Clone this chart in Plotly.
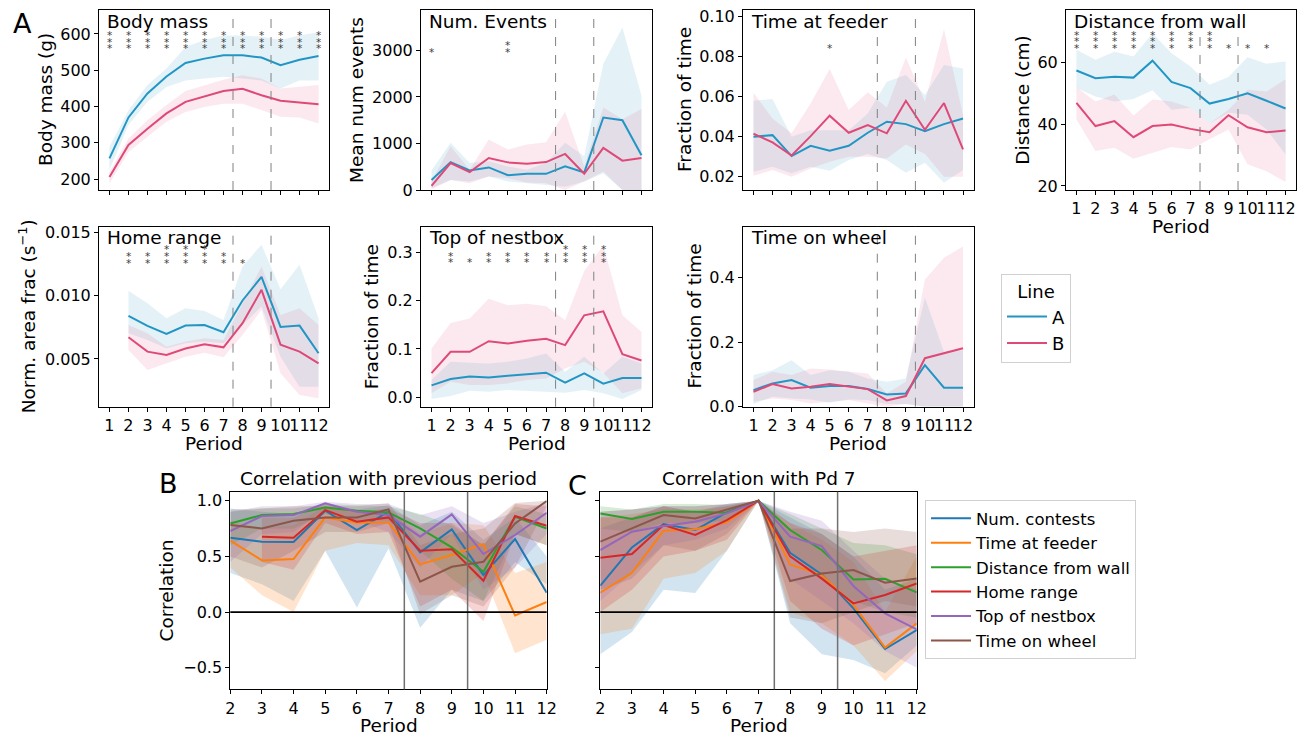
import plotly.graph_objects as go

# ---------------- DATA ----------------
PERIODS = list(range(1, 13))
PERIODS_HR = list(range(2, 13))
PERIODS_CORR = list(range(2, 13))
PERIODS_CORR_HR = list(range(3, 13))
PHASE_LINES = [7.5, 9.5]
LINES = ["A", "B"]

# Body mass (g)
body_a = [257, 370, 436, 483, 520, 532, 541, 541, 535, 514, 529, 539]
body_a_lo = [225, 349, 413, 454, 472, 477, 482, 477, 472, 450, 472, 472]
body_a_hi = [289, 390, 459, 505, 564, 583, 596, 596, 592, 583, 596, 605]
body_b = [206, 294, 339, 381, 413, 428, 443, 449, 431, 416, 410, 406]
body_b_lo = [188, 275, 317, 358, 385, 399, 408, 408, 390, 372, 370, 353]
body_b_hi = [220, 312, 362, 404, 443, 459, 474, 486, 477, 450, 454, 459]
body_sig = [3, 3, 3, 3, 3, 3, 3, 3, 3, 3, 3, 3]

# Num. events
ev_a = [217, 600, 420, 485, 319, 348, 348, 507, 377, 1558, 1500, 746]
ev_a_lo = [36, 217, 181, 290, 181, 145, 109, 72, 181, 362, 0, 0]
ev_a_hi = [420, 1014, 580, 616, 507, 435, 580, 1014, 725, 2717, 3493, 2029]
ev_b = [87, 580, 384, 688, 594, 565, 601, 775, 348, 906, 630, 688]
ev_b_lo = [14, 217, 145, 290, 254, 159, 145, 0, 181, 399, 0, 0]
ev_b_hi = [181, 942, 435, 1087, 870, 978, 1029, 1681, 507, 1775, 1522, 1739]
ev_sig = [1, 0, 0, 0, 2, 0, 0, 0, 0, 0, 0, 0]

# Time at feeder
fd_a = [0.0399, 0.0407, 0.0303, 0.0354, 0.0329, 0.0354, 0.0419, 0.0474, 0.0462, 0.0427, 0.0462, 0.0490]
fd_a_lo = [0.0225, 0.0250, 0.0217, 0.0250, 0.0230, 0.0283, 0.0313, 0.0283, 0.0220, 0.0270, 0.0170, 0.0233]
fd_a_hi = [0.0578, 0.0587, 0.0399, 0.0432, 0.0432, 0.0432, 0.0515, 0.0673, 0.0706, 0.0607, 0.0756, 0.0739]
fd_b = [0.0414, 0.0371, 0.0306, 0.0402, 0.0504, 0.0419, 0.0457, 0.0416, 0.0578, 0.0434, 0.0567, 0.0336]
fd_b_lo = [0.0205, 0.0233, 0.0200, 0.0241, 0.0275, 0.0300, 0.0300, 0.0291, 0.0361, 0.0313, 0.0200, 0.0200]
fd_b_hi = [0.0618, 0.0490, 0.0416, 0.0565, 0.0736, 0.0532, 0.0620, 0.0545, 0.0794, 0.0573, 0.0934, 0.0507]
fd_sig = [0, 0, 0, 0, 1, 0, 0, 0, 0, 0, 0, 0]

# Distance from wall (cm)
ds_a = [57.4, 54.9, 55.4, 55.1, 60.6, 53.7, 51.7, 46.7, 48.2, 50.0, 47.6, 45.1]
ds_a_lo = [51.7, 49.0, 47.4, 48.2, 51.0, 44.7, 45.3, 40.2, 43.7, 43.1, 38.3, 30.2]
ds_a_hi = [64.1, 60.9, 63.5, 61.9, 69.5, 63.0, 58.7, 52.8, 55.3, 61.7, 59.6, 60.3]
ds_b = [46.9, 39.4, 41.0, 35.8, 39.4, 39.9, 38.5, 37.4, 42.9, 39.0, 37.4, 38.0]
ds_b_lo = [41.5, 31.3, 32.4, 28.8, 30.8, 32.6, 31.8, 35.1, 38.3, 27.0, 24.8, 21.3]
ds_b_hi = [52.0, 47.4, 49.6, 42.8, 48.0, 47.4, 45.3, 40.2, 44.7, 51.2, 50.6, 54.6]
ds_sig = [3, 3, 3, 3, 3, 3, 3, 3, 1, 1, 1, 0]

# Home range (periods 2..12)
hr_a = [0.00839, 0.00761, 0.00697, 0.00763, 0.00768, 0.00711, 0.00961, 0.01147, 0.00753, 0.00763, 0.00545]
hr_a_lo = [0.00703, 0.00650, 0.00584, 0.00624, 0.00637, 0.00624, 0.00768, 0.00913, 0.00518, 0.00282, 0.00282]
hr_a_hi = [0.01037, 0.00939, 0.00821, 0.00900, 0.00879, 0.00808, 0.01229, 0.01400, 0.01050, 0.01242, 0.00821]
hr_b = [0.00671, 0.00558, 0.00532, 0.00582, 0.00616, 0.00592, 0.00782, 0.01045, 0.00613, 0.00558, 0.00466]
hr_b_lo = [0.00571, 0.00413, 0.00466, 0.00518, 0.00550, 0.00513, 0.00689, 0.00887, 0.00387, 0.00216, 0.00190]
hr_b_hi = [0.00768, 0.00703, 0.00597, 0.00637, 0.00663, 0.00650, 0.00939, 0.01229, 0.00847, 0.00900, 0.00768]
hr_sig = [0, 2, 2, 3, 3, 3, 2, 1, 0, 0, 0, 0]

# Top of nestbox
nb_a = [0.0247, 0.0377, 0.0432, 0.0412, 0.0446, 0.0474, 0.0508, 0.0302, 0.0494, 0.0281, 0.0398, 0.0398]
nb_a_lo = [-0.0034, 0.0027, 0.0137, 0.0117, 0.0151, 0.0137, 0.0117, 0.0096, 0.0151, 0.0082, -0.0034, 0.0151]
nb_a_hi = [0.0357, 0.0734, 0.0714, 0.0700, 0.0734, 0.0803, 0.0906, 0.0528, 0.0837, 0.0494, 0.0837, 0.0700]
nb_b = [0.0501, 0.0940, 0.0940, 0.1160, 0.1110, 0.1167, 0.1208, 0.1078, 0.1695, 0.1778, 0.0892, 0.0762]
nb_b_lo = [0.0082, 0.0323, 0.0254, 0.0254, 0.0288, 0.0357, 0.0391, 0.0597, 0.0734, 0.0508, 0.0082, 0.0185]
nb_b_hi = [0.1009, 0.1537, 0.1627, 0.2038, 0.1901, 0.1935, 0.1880, 0.1592, 0.2608, 0.3137, 0.1695, 0.1352]
nb_sig = [0, 2, 1, 2, 2, 2, 2, 3, 3, 3, 0, 0]

# Time on wheel
wh_a = [0.0515, 0.0722, 0.0825, 0.0588, 0.0639, 0.0639, 0.0546, 0.0381, 0.0412, 0.1289, 0.0588, 0.0588]
wh_a_lo = [0.0082, 0.0309, 0.0258, 0.0227, 0.0124, 0.0227, 0.0206, 0.0082, 0.0082, 0.0, 0.0, 0.0]
wh_a_hi = [0.0980, 0.1134, 0.1443, 0.0980, 0.1134, 0.1082, 0.0876, 0.0773, 0.0876, 0.3380, 0.1701, 0.1753]
wh_b = [0.0464, 0.0701, 0.0567, 0.0619, 0.0701, 0.0619, 0.0546, 0.0196, 0.0330, 0.1505, 0.1650, 0.1814]
wh_b_lo = [0.0155, 0.0258, 0.0206, 0.0103, 0.0155, 0.0206, 0.0103, 0.0, 0.0082, 0.0, 0.0, 0.0]
wh_b_hi = [0.0825, 0.1082, 0.0980, 0.1186, 0.1155, 0.1082, 0.1031, 0.0412, 0.0773, 0.3948, 0.4619, 0.4969]
wh_sig = [0] * 12

# Correlation with previous period (B)
CORR_NAMES = ["Num. contests", "Time at feeder", "Distance from wall", "Home range", "Top of nestbox", "Time on wheel"]
prev_contests = [0.668, 0.632, 0.629, 0.910, 0.737, 0.901, 0.536, 0.743, 0.332, 0.656, 0.174]
prev_contests_lo = [0.35, 0.25, 0.10, 0.55, 0.04, 0.57, -0.14, 0.20, 0.10, 0.45, 0.25]
prev_contests_hi = [0.93, 0.90, 0.88, 0.97, 0.92, 0.96, 0.78, 0.90, 0.65, 0.85, 0.50]
prev_feeder = [0.641, 0.464, 0.476, 0.850, 0.805, 0.805, 0.428, 0.512, 0.611, -0.030, 0.090]
prev_feeder_lo = [0.40, 0.15, 0.00, 0.55, 0.62, 0.60, 0.15, 0.15, 0.35, -0.37, -0.25]
prev_feeder_hi = [0.82, 0.75, 0.78, 0.95, 0.90, 0.92, 0.70, 0.80, 0.78, 0.35, 0.45]
prev_wall = [0.796, 0.871, 0.880, 0.940, 0.910, 0.895, 0.751, 0.581, 0.362, 0.856, 0.751]
prev_wall_lo = [0.60, 0.75, 0.75, 0.88, 0.82, 0.82, 0.55, 0.30, 0.10, 0.70, 0.60]
prev_wall_hi = [0.90, 0.93, 0.93, 0.97, 0.96, 0.95, 0.88, 0.78, 0.60, 0.95, 0.88]
prev_home = [0.677, 0.668, 0.916, 0.811, 0.850, 0.551, 0.563, 0.281, 0.862, 0.775]
prev_home_lo = [0.45, 0.38, 0.80, 0.70, 0.72, 0.05, 0.20, -0.08, 0.70, 0.60]
prev_home_hi = [0.85, 0.85, 0.97, 0.90, 0.93, 0.80, 0.80, 0.60, 0.97, 0.95]
prev_nest = [0.728, 0.862, 0.871, 0.976, 0.901, 0.871, 0.677, 0.877, 0.521, 0.692, 0.892]
prev_nest_lo = [0.45, 0.70, 0.72, 0.92, 0.82, 0.72, 0.40, 0.70, 0.20, 0.40, 0.70]
prev_nest_hi = [0.90, 0.95, 0.95, 0.99, 0.97, 0.97, 0.87, 0.95, 0.80, 0.90, 0.98]
prev_wheel = [0.781, 0.751, 0.820, 0.850, 0.850, 0.922, 0.272, 0.407, 0.452, 0.796, 0.997]
prev_wheel_lo = [0.50, 0.40, 0.55, 0.72, 0.72, 0.80, -0.02, 0.15, 0.05, 0.40, 0.95]
prev_wheel_hi = [0.92, 0.93, 0.95, 0.95, 0.95, 0.98, 0.60, 0.70, 0.75, 0.98, 1.00]

# Correlation with Pd 7 (C)
pd7_contests = [0.237, 0.581, 0.790, 0.737, 0.895, 1.0, 0.533, 0.338, 0.033, -0.332, -0.162]
pd7_contests_lo = [-0.38, -0.18, 0.20, 0.17, 0.55, 1.0, -0.10, -0.38, -0.43, -0.55, -0.30]
pd7_contests_hi = [0.75, 0.85, 0.95, 0.90, 0.97, 1.0, 0.85, 0.70, 0.50, 0.20, 0.30]
pd7_feeder = [0.174, 0.353, 0.731, 0.743, 0.805, 1.0, 0.428, 0.332, 0.063, -0.320, -0.102]
pd7_feeder_lo = [-0.20, -0.15, 0.30, 0.35, 0.55, 1.0, 0.00, -0.10, -0.30, -0.62, -0.35]
pd7_feeder_hi = [0.85, 0.88, 0.92, 0.92, 0.95, 1.0, 0.80, 0.65, 0.45, 0.00, 0.50]
pd7_wall = [0.886, 0.835, 0.901, 0.901, 0.892, 1.0, 0.737, 0.557, 0.293, 0.299, 0.177]
pd7_wall_lo = [0.75, 0.72, 0.80, 0.80, 0.82, 1.0, 0.55, 0.30, 0.10, 0.00, -0.05]
pd7_wall_hi = [0.95, 0.92, 0.97, 0.97, 0.96, 1.0, 0.88, 0.75, 0.62, 0.60, 0.52]
pd7_home = [0.488, 0.521, 0.781, 0.692, 0.826, 1.0, 0.500, 0.300, 0.078, 0.153, 0.257]
pd7_home_lo = [0.00, 0.20, 0.50, 0.55, 0.65, 1.0, 0.10, -0.15, -0.30, -0.20, -0.10]
pd7_home_hi = [0.85, 0.85, 0.95, 0.90, 0.95, 1.0, 0.80, 0.70, 0.50, 0.55, 0.60]
pd7_nest = [0.557, 0.722, 0.772, 0.811, 0.886, 1.0, 0.677, 0.593, 0.234, -0.012, -0.156]
pd7_nest_lo = [0.10, 0.35, 0.60, 0.65, 0.75, 1.0, 0.30, 0.10, -0.10, -0.35, -0.50]
pd7_nest_hi = [0.90, 0.92, 0.95, 0.95, 0.97, 1.0, 0.90, 0.82, 0.55, 0.30, 0.20]
pd7_wheel = [0.632, 0.751, 0.871, 0.841, 0.922, 1.0, 0.278, 0.347, 0.377, 0.263, 0.302]
pd7_wheel_lo = [0.20, 0.30, 0.60, 0.55, 0.70, 1.0, -0.05, -0.10, 0.00, 0.10, 0.05]
pd7_wheel_hi = [0.90, 0.92, 0.95, 0.95, 0.97, 1.0, 0.75, 0.75, 0.72, 0.75, 0.72]

# ---------------- STYLE / LAYOUT ----------------
W, H = 1309, 737
FONT = "DejaVu Sans"
COL_A = "rgb(33,150,196)"
COL_B = "rgb(222,73,120)"
FILL_A = "rgba(33,150,196,0.12)"
FILL_B = "rgba(222,73,120,0.12)"
TAB = ["#1f77b4", "#ff7f0e", "#2ca02c", "#d62728", "#9467bd", "#8c564b"]
TAB_FILL = ["rgba(31,119,180,0.2)", "rgba(255,127,14,0.2)", "rgba(44,160,44,0.2)",
            "rgba(214,39,40,0.2)", "rgba(148,103,189,0.2)", "rgba(140,86,75,0.2)"]
STAR_STEP = 6.7


def xdom(l, r):
    return [l / W, r / W]


def ydom(t, b):
    return [1 - b / H, 1 - t / H]


def axn(n):
    s = "" if n == 1 else str(n)
    return f"x{s}", f"y{s}", f"xaxis{s}", f"yaxis{s}"


fig = go.Figure()

panels = [
    dict(n=1, box=(99, 10, 329, 190), yr=[170, 666], tv=[200, 300, 400, 500, 600], fmt="d",
         title="Body mass", ylab="Body mass (g)", ylx=45, xlab=False, star=37.3,
         x=PERIODS, a=(body_a, body_a_lo, body_a_hi), b=(body_b, body_b_lo, body_b_hi), sig=body_sig),
    dict(n=2, box=(421, 10, 652, 190), yr=[0, 3870], tv=[0, 1000, 2000, 3000], fmt="d",
         title="Num. Events", ylab="Mean num events", ylx=356, xlab=False, star=40.7,
         x=PERIODS, a=(ev_a, ev_a_lo, ev_a_hi), b=(ev_b, ev_b_lo, ev_b_hi), sig=ev_sig),
    dict(n=3, box=(743, 10, 973.5, 190), yr=[0.0134, 0.103], tv=[0.02, 0.04, 0.06, 0.08, 0.10], fmt=".2f",
         title="Time at feeder", ylab="Fraction of time", ylx=684, xlab=False, star=36.7,
         x=PERIODS, a=(fd_a, fd_a_lo, fd_a_hi), b=(fd_b, fd_b_lo, fd_b_hi), sig=fd_sig),
    dict(n=4, box=(1066, 10, 1296, 190), yr=[18.7, 77], tv=[20, 40, 60], fmt="d",
         title="Distance from wall", ylab="Distance (cm)", ylx=1021.7, xlab=True, star=37,
         x=PERIODS, a=(ds_a, ds_a_lo, ds_a_hi), b=(ds_b, ds_b_lo, ds_b_hi), sig=ds_sig),
    dict(n=5, box=(99, 226.5, 329, 406.7), yr=[0.00124, 0.01544], tv=[0.005, 0.010, 0.015], fmt=".3f",
         title="Home range", ylab="Norm. area frac (s<sup>−1</sup>)", ylx=26.7, xlab=True, star=35,
         x=PERIODS_HR, a=(hr_a, hr_a_lo, hr_a_hi), b=(hr_b, hr_b_lo, hr_b_hi), sig=hr_sig),
    dict(n=6, box=(421, 226.5, 652, 406.7), yr=[-0.0194, 0.353], tv=[0.0, 0.1, 0.2, 0.3], fmt=".1f",
         title="Top of nestbox", ylab="Fraction of time", ylx=371.7, xlab=True, star=34.7,
         x=PERIODS, a=(nb_a, nb_a_lo, nb_a_hi), b=(nb_b, nb_b_lo, nb_b_hi), sig=nb_sig),
    dict(n=7, box=(743, 226.5, 973.5, 406.7), yr=[0, 0.559], tv=[0.0, 0.2, 0.4], fmt=".1f",
         title="Time on wheel", ylab="Fraction of time", ylx=695, xlab=True, star=35,
         x=PERIODS, a=(wh_a, wh_a_lo, wh_a_hi), b=(wh_b, wh_b_lo, wh_b_hi), sig=wh_sig),
]


def axis_common(**kw):
    d = dict(showline=True, linecolor="black", linewidth=1, mirror=True, ticks="outside",
             ticklen=4, tickwidth=1, tickcolor="black", showgrid=False, zeroline=False,
             automargin=False,
             tickfont=dict(size=16, color="black", family=FONT), tickangle=0)
    d.update(kw)
    return d


annotations = []
shapes = []
layout = {}


def band(x, lo, hi, fill, xa, ya):
    fig.add_trace(go.Scatter(x=list(x) + list(x)[::-1], y=list(hi) + list(lo)[::-1], fill="toself",
                             fillcolor=fill, line=dict(width=0), mode="lines", hoverinfo="skip",
                             showlegend=False, xaxis=xa, yaxis=ya))


for p in panels:
    n = p["n"]
    xa, ya, xk, yk = axn(n)
    l, t, r, b = p["box"]
    layout[xk] = axis_common(domain=xdom(l, r), range=[0.45, 12.55], tickvals=PERIODS,
                             showticklabels=p["xlab"], anchor=ya)
    layout[yk] = axis_common(domain=ydom(t, b), range=p["yr"], tickvals=p["tv"],
                             tickformat=p["fmt"], anchor=xa)
    band(p["x"], p["a"][1], p["a"][2], FILL_A, xa, ya)
    band(p["x"], p["b"][1], p["b"][2], FILL_B, xa, ya)
    first = n == 1
    fig.add_trace(go.Scatter(x=p["x"], y=p["a"][0], mode="lines", line=dict(color=COL_A, width=2),
                             name=LINES[0], showlegend=first, legend="legend", xaxis=xa, yaxis=ya))
    fig.add_trace(go.Scatter(x=p["x"], y=p["b"][0], mode="lines", line=dict(color=COL_B, width=2),
                             name=LINES[1], showlegend=first, legend="legend", xaxis=xa, yaxis=ya))
    for xv in PHASE_LINES:
        shapes.append(dict(type="line", xref=xa, yref=f"{ya} domain", x0=xv, x1=xv, y0=0, y1=1,
                           line=dict(color="#808080", width=1, dash="dash")))
    annotations.append(dict(text=p["title"], xref=f"{xa} domain", yref=f"{ya} domain", x=0.025,
                            y=1 - 11 / (b - t), xanchor="left", yanchor="middle", showarrow=False,
                            font=dict(size=18.5, color="black", family=FONT)))
    annotations.append(dict(text=p["ylab"], xref="paper", yref="paper", x=p["ylx"] / W,
                            y=1 - (t + b) / 2 / H, textangle=-90, xanchor="center", yanchor="middle",
                            showarrow=False, font=dict(size=18.5, color="black", family=FONT)))
    if p["xlab"]:
        annotations.append(dict(text="Period", xref="paper", yref="paper", x=(l + r) / 2 / W,
                                y=1 - (b + 36.5) / H, xanchor="center", yanchor="middle",
                                showarrow=False, font=dict(size=18.5, color="black", family=FONT)))
    hpx = b - t
    for i, cnt in enumerate(p["sig"]):
        for k in range(cnt):
            annotations.append(dict(text="*", xref=xa, yref=f"{ya} domain", x=PERIODS[i],
                                    y=1 - (p["star"] - STAR_STEP * k) / hpx, xanchor="center",
                                    yanchor="middle", yshift=-1, showarrow=False,
                                    font=dict(size=10.5, color="#404040", family=FONT)))

corr_sets = [
    dict(n=8, box=(230.3, 491.7, 546.7, 689.3), title="Correlation with previous period", ylabels=True,
         series=[(PERIODS_CORR, prev_contests, prev_contests_lo, prev_contests_hi),
                 (PERIODS_CORR, prev_feeder, prev_feeder_lo, prev_feeder_hi),
                 (PERIODS_CORR, prev_wall, prev_wall_lo, prev_wall_hi),
                 (PERIODS_CORR_HR, prev_home, prev_home_lo, prev_home_hi),
                 (PERIODS_CORR, prev_nest, prev_nest_lo, prev_nest_hi),
                 (PERIODS_CORR, prev_wheel, prev_wheel_lo, prev_wheel_hi)]),
    dict(n=9, box=(600.3, 491.7, 916.7, 689.3), title="Correlation with Pd 7", ylabels=False,
         series=[(PERIODS_CORR, pd7_contests, pd7_contests_lo, pd7_contests_hi),
                 (PERIODS_CORR, pd7_feeder, pd7_feeder_lo, pd7_feeder_hi),
                 (PERIODS_CORR, pd7_wall, pd7_wall_lo, pd7_wall_hi),
                 (PERIODS_CORR, pd7_home, pd7_home_lo, pd7_home_hi),
                 (PERIODS_CORR, pd7_nest, pd7_nest_lo, pd7_nest_hi),
                 (PERIODS_CORR, pd7_wheel, pd7_wheel_lo, pd7_wheel_hi)]),
]

for c in corr_sets:
    n = c["n"]
    xa, ya, xk, yk = axn(n)
    l, t, r, b = c["box"]
    layout[xk] = axis_common(domain=xdom(l, r), range=[2, 12], tickvals=PERIODS_CORR, anchor=ya)
    layout[yk] = axis_common(domain=ydom(t, b), range=[-0.694, 1.081], tickvals=[-0.5, 0.0, 0.5, 1.0],
                             tickformat=".1f", showticklabels=c["ylabels"], anchor=xa)
    for j, (xs, mid, lo, hi) in enumerate(c["series"]):
        band(xs, lo, hi, TAB_FILL[j], xa, ya)
    for j, (xs, mid, lo, hi) in enumerate(c["series"]):
        fig.add_trace(go.Scatter(x=xs, y=mid, mode="lines", line=dict(color=TAB[j], width=2),
                                 name=CORR_NAMES[j], showlegend=(n == 8), legend="legend2",
                                 xaxis=xa, yaxis=ya))
    for xv in PHASE_LINES:
        shapes.append(dict(type="line", xref=xa, yref=f"{ya} domain", x0=xv, x1=xv, y0=0, y1=1,
                           line=dict(color="#707070", width=1.5)))
    shapes.append(dict(type="line", xref=f"{xa} domain", yref=ya, x0=0, x1=1, y0=0, y1=0,
                       line=dict(color="black", width=1.8)))
    annotations.append(dict(text=c["title"], xref="paper", yref="paper", x=(l + r) / 2 / W,
                            y=1 - 478.3 / H, xanchor="center", yanchor="middle", showarrow=False,
                            font=dict(size=18.5, color="black", family=FONT)))
    annotations.append(dict(text="Period", xref="paper", yref="paper", x=(l + r) / 2 / W,
                            y=1 - 725.5 / H, xanchor="center", yanchor="middle", showarrow=False,
                            font=dict(size=18.5, color="black", family=FONT)))

annotations.append(dict(text="Correlation", xref="paper", yref="paper", x=166 / W, y=1 - 590.5 / H,
                        textangle=-90, xanchor="center", yanchor="middle", showarrow=False,
                        font=dict(size=18.5, color="black", family=FONT)))

for lab, (px, py) in zip(["A", "B", "C"], [(22, 24), (168, 483), (577, 485)]):
    annotations.append(dict(text=lab, xref="paper", yref="paper", x=px / W, y=1 - py / H,
                            xanchor="center", yanchor="middle", showarrow=False,
                            font=dict(size=27, color="black", family=FONT)))

fig.update_layout(
    width=W, height=H, autosize=False,
    margin=dict(l=0, r=0, t=0, b=0, pad=0, autoexpand=False),
    paper_bgcolor="white", plot_bgcolor="white",
    font=dict(family=FONT, color="black"),
    annotations=annotations, shapes=shapes,
    legend=dict(title=dict(text="Line", side="top center", font=dict(size=18)),
                x=1001 / W, y=1 - 274 / H, xanchor="left", yanchor="top",
                bordercolor="#d0d0d0", borderwidth=1, bgcolor="white",
                font=dict(size=18, family=FONT), itemwidth=40, tracegroupgap=0),
    legend2=dict(x=925 / W, y=1 - 500 / H, xanchor="left", yanchor="top",
                 bordercolor="#d0d0d0", borderwidth=1, bgcolor="white",
                 font=dict(size=16.5, family=FONT), itemwidth=40, tracegroupgap=0),
    **layout,
)

POST = ("document.documentElement.style.margin='0';document.body.style.margin='0';"
        "document.documentElement.style.overflow='hidden';document.body.style.overflow='hidden';"
        "var g=document.querySelector('.plotly-graph-div');"
        "g.style.position='fixed';g.style.left='0px';g.style.top='0px';")

fig.write_html("out.html", config={"displayModeBar": False}, post_script=POST)
